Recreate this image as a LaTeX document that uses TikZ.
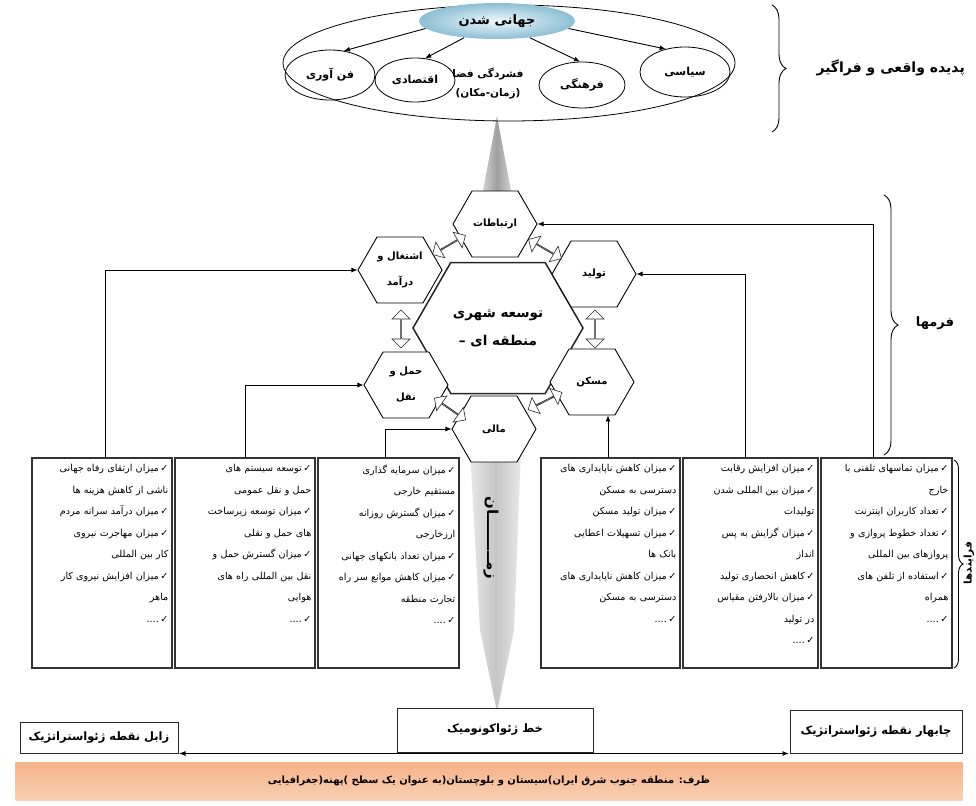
\documentclass[tikz,border=0pt]{standalone}
\usepackage{fontspec}
\usetikzlibrary{shapes.symbols,shapes.arrows,shapes.geometric,decorations.pathreplacing,arrows.meta,calc}
\TeXXeTstate=1
\newfontfamily\fa[Script=Arabic]{DejaVu Sans}
\newcommand\myR[1]{\beginR#1\endR}
\newcommand\ck{✓\kern1.5pt}
\newcommand\cont[1]{\myR{#1}\hspace*{7pt}}
\begin{document}
\begin{tikzpicture}[x=1pt,y=-1pt,
  hex/.style={signal, signal to=east and west, signal pointer angle=120, draw=black, line width=0.9pt, fill=white, minimum width=84pt, minimum height=66pt, inner sep=0pt, align=center, font=\fa\bfseries\fontsize{10}{26}\selectfont},
  bighex/.style={hex, minimum width=170pt, minimum height=131pt, line width=1.5pt, draw=black!85, font=\fa\bfseries\fontsize{13.5}{28}\selectfont},
  dbl/.style={double arrow, draw=black!85, fill=white, line width=0.6pt, minimum height=38pt, minimum width=18pt, double arrow head extend=4.5pt, inner sep=0pt},
  arr/.style={-{Latex[length=6pt,width=5pt]}, line width=0.9pt},
  ell/.style={ellipse, draw=black, line width=0.8pt, inner sep=0pt, font=\fa\bfseries\fontsize{11}{13}\selectfont},
  pbox/.style={draw=black!80, line width=1.1pt, minimum height=210pt, inner sep=0pt},
  btext/.style={font=\fa\fontsize{9.6}{21.5}\selectfont, align=right, inner sep=0pt, anchor=north east},
  gbox/.style={draw=black!85, line width=1pt, fill=white, inner sep=0pt, font=\fa\bfseries\fontsize{11.5}{14}\selectfont},
  brc/.style={decorate, decoration={brace, amplitude=#1}, line width=0.9pt},
  lbl/.style={font=\fa\bfseries\fontsize{#1}{#1}\selectfont, inner sep=0pt}
]
\useasboundingbox (0,0) rectangle (976,805);
\fill[white] (0,0) rectangle (976,805);

% funnels
\path[shade, left color=gray!35, right color=gray!35, middle color=gray!75] (497,116) -- (512,196) -- (482,196) -- cycle;
\path[shade, left color=gray!18, right color=gray!18, middle color=gray!45] (470,450) -- (521,450) -- (514,630) -- (497,712) -- (480,630) -- cycle;
\node[lbl=15, rotate=-90] (zaman) at (491,538) {\myR{زمـــــــــان}};

% top ellipse
\node[ell, minimum width=452pt, minimum height=116pt] (world) at (509,63) {};
\node[ell, draw=none, minimum width=156pt, minimum height=36pt, inner color={rgb,255:red,238;green,248;blue,252}, outer color={rgb,255:red,140;green,190;blue,212}, font=\fa\bfseries\fontsize{13}{15}\selectfont] (jahani) at (497,21) {\myR{جهانی شدن}};
\node[ell, minimum width=90pt, minimum height=50pt] (fan) at (330,75) {\myR{فن آوری}};
\node[ell, minimum width=80pt, minimum height=44pt] (eqt) at (415,80) {\myR{اقتصادی}};
\node[ell, minimum width=86pt, minimum height=46pt] (farh) at (582,85) {\myR{فرهنگی}};
\node[ell, minimum width=90pt, minimum height=50pt] (siasi) at (685,72) {\myR{سیاسی}};
\node[lbl=10.5] (fesh) at (488,74) {\myR{فشردگی فضا}};
\node[lbl=10.5] (zm) at (488,94) {\myR{(زمان-مکان)}};
\draw[arr] (jahani.186) -- (fan.60);
\draw[arr] (jahani.207) -- (eqt.65);
\draw[arr] (jahani.-27) -- (farh.95);
\draw[arr] (jahani.-6) -- (siasi.130);
\draw[brc=14pt] (772,5) -- (772,132);
\node[lbl=14, anchor=east] (padide) at (965,68) {\myR{پدیده واقعی و فراگیر}};

% hexagons
\node[bighex] (urban) at (498,328) {\myR{توسعه شهری}\\\myR{منطقه ای –}};
\node[hex] (ertebatat) at (495,224) {\myR{ارتباطات}};
\node[hex] (tolid) at (594,274) {\myR{تولید}};
\node[hex] (maskan) at (592,382) {\myR{مسکن}};
\node[hex] (mali) at (494,429) {\myR{مالی}};
\node[hex] (haml) at (406,385) {\myR{حمل و}\\\myR{نقل}};
\node[hex] (eshteghal) at (400,270) {\myR{اشتغال و}\\\myR{درآمد}};
\node[dbl, rotate=30] (d1) at (449,245) {};
\node[dbl, rotate=-30] (d2) at (545,249) {};
\node[dbl, rotate=90] (d3) at (595,329) {};
\node[dbl, rotate=27] (d4) at (545,401) {};
\node[dbl, rotate=-35] (d5) at (450,409) {};
\node[dbl, rotate=90] (d6) at (401,329) {};

% process boxes
\node[pbox, minimum width=140pt] (box1) at (102,563) {};
\node[pbox, minimum width=140pt] (box2) at (245,563) {};
\node[pbox, minimum width=141pt] (box3) at (388.5,563) {};
\node[pbox, minimum width=139pt] (box4) at (610.5,563) {};
\node[pbox, minimum width=135pt] (box5) at (750.5,563) {};
\node[pbox, minimum width=131pt] (box6) at (886.5,563) {};
\coordinate (c1) at (105,458);
\coordinate (c2) at (245,458);
\coordinate (c3) at (385,458);
\coordinate (c4) at (608,458);
\coordinate (c5) at (745,458);
\coordinate (c6) at (873,458);

\node[btext, text width=130pt] (t1) at ($(box1.north east)+(-4,7)$) {%
\myR{\ck میزان ارتقای رفاه جهانی}\\
\cont{ناشی از کاهش هزینه ها}\\
\myR{\ck میزان درآمد سرانه مردم}\\
\myR{\ck میزان مهاجرت نیروی}\\
\cont{کار بین المللی}\\
\myR{\ck میزان افزایش نیروی کار}\\
\cont{ماهر}\\
\myR{\ck ....}};
\node[btext, text width=130pt] (t2) at ($(box2.north east)+(-4,7)$) {%
\myR{\ck توسعه سیستم های}\\
\cont{حمل و نقل عمومی}\\
\myR{\ck میزان توسعه زیرساخت}\\
\cont{های حمل و نقلی}\\
\myR{\ck میزان گسترش حمل و}\\
\cont{نقل بین المللی راه های}\\
\cont{هوایی}\\
\myR{\ck ....}};
\node[btext, text width=131pt] (t3) at ($(box3.north east)+(-4,7)$) {%
\myR{\ck میزان سرمایه گذاری}\\
\cont{مستقیم خارجی}\\
\myR{\ck میزان گسترش روزانه}\\
\cont{ارزخارجی}\\
\myR{\ck میزان تعداد بانکهای جهانی}\\
\myR{\ck میزان کاهش موانع سر راه}\\
\cont{تجارت منطقه}\\
\myR{\ck ....}};
\node[btext, text width=129pt] (t4) at ($(box4.north east)+(-4,7)$) {%
\myR{\ck میزان کاهش ناپایداری های}\\
\cont{دسترسی به مسکن}\\
\myR{\ck میزان تولید مسکن}\\
\myR{\ck میزان تسهیلات اعطایی}\\
\cont{بانک ها}\\
\myR{\ck میزان کاهش ناپایداری های}\\
\cont{دسترسی به مسکن}\\
\myR{\ck ....}};
\node[btext, text width=125pt] (t5) at ($(box5.north east)+(-4,7)$) {%
\myR{\ck میزان افزایش رقابت}\\
\myR{\ck میزان بین المللی شدن}\\
\cont{تولیدات}\\
\myR{\ck میزان گرایش به پس}\\
\cont{انداز}\\
\myR{\ck کاهش انحصاری تولید}\\
\myR{\ck میزان بالارفتن مقیاس}\\
\cont{در تولید}\\
\myR{\ck ....}};
\node[btext, text width=121pt] (t6) at ($(box6.north east)+(-4,7)$) {%
\myR{\ck میزان تماسهای تلفنی با}\\
\cont{خارج}\\
\myR{\ck تعداد کاربران اینترنت}\\
\myR{\ck تعداد خطوط پروازی و}\\
\cont{پروازهای بین المللی}\\
\myR{\ck استفاده از تلفن های}\\
\cont{همراه}\\
\myR{\ck ....}};

% connectors
\draw[arr] (c1) |- (eshteghal);
\draw[arr] (c2) |- (haml);
\draw[arr] (c3) |- (mali);
\draw[arr] (c4) -- (c4 |- maskan.south);
\draw[arr] (c5) |- (tolid);
\draw[arr] (c6) |- (ertebatat);

% right braces
\draw[brc=14pt] (884,195) -- (884,455);
\node[lbl=13] (forms) at (935,323) {\myR{فرمها}};
\draw[brc=9pt] (954,460) -- (954,668);
\node[lbl=10.5, rotate=90] (procs) at (969,563) {\myR{فرایندها}};

% bottom
\node[gbox, minimum width=158pt, minimum height=31pt] (zabol) at (99,737.5) {\myR{زابل نقطه ژئواستراتژیک}};
\node[gbox, minimum width=196pt, minimum height=44pt] (geo) at (495,730) {\myR{خط ژئواکونومیک}};
\node[gbox, minimum width=172pt, minimum height=43pt] (chab) at (876,731.5) {\myR{چابهار نقطه ژئواستراتژیک}};
\draw[{Latex[length=7pt,width=5pt]}-{Latex[length=7pt,width=5pt]}, line width=1.6pt] (zabol.south east) -- (chab.south west);
\node[minimum width=947pt, minimum height=38pt, inner sep=0pt, top color={rgb,255:red,245;green,178;blue,135}, middle color={rgb,255:red,253;green,236;blue,224}, bottom color={rgb,255:red,249;green,208;blue,180}, font=\fa\bfseries\fontsize{10}{12}\selectfont] (band) at (489,781) {\myR{ظرف\kern0pt: منطقه جنوب شرق ایران\kern0pt)\kern0pt سیستان و بلوچستان\kern0pt(\kern0pt به عنوان یک سطح )\kern0pt پهنه\kern0pt(\kern0pt جغرافیایی}};
\end{tikzpicture}
\end{document}
